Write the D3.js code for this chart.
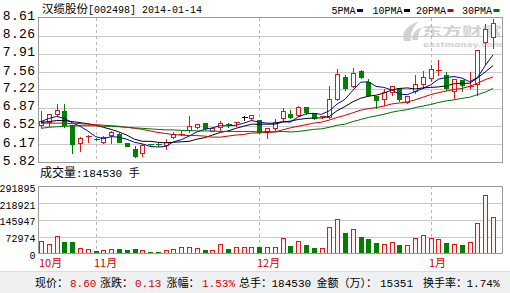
<!DOCTYPE html>
<html>
<head>
<meta charset="utf-8">
<script src="https://cdn.jsdelivr.net/npm/d3@7"></script>
<style>
  body { margin: 0; background: #fff; }
  svg { display: block; }
</style>
</head>
<body>
<div id="chart"></div>
<script>
// ---- data ----
const stockName = "汉缆股份";
const stockInfo = "[002498] 2014-01-14";

const open  = [6.53,6.60,6.74,6.81,6.53,6.18,6.31,6.27,6.21,6.35,6.37,6.18,6.07,6.00,6.17,6.17,6.14,6.30,6.35,6.44,
               6.49,6.57,6.42,6.49,6.56,6.58,6.68,6.66,6.63,6.39,6.47,6.66,6.75,6.73,6.89,6.76,6.68,6.68,7.04,7.47,
               7.29,7.57,7.36,7.10,7.04,7.17,7.24,6.98,7.19,7.32,7.44,7.59,7.50,7.19,7.40,7.27,7.32,8.14,8.23];
const close = [6.62,6.74,6.82,6.54,6.16,6.28,6.32,6.26,6.31,6.40,6.21,6.13,5.94,6.15,6.16,6.16,6.21,6.37,6.36,6.52,
               6.55,6.47,6.48,6.57,6.55,6.59,6.68,6.72,6.40,6.47,6.60,6.81,6.68,6.88,6.79,6.66,6.70,7.04,7.51,7.24,
               7.53,7.47,7.12,7.02,7.17,7.28,7.04,7.10,7.33,7.47,7.61,7.60,7.24,7.42,7.31,7.29,7.98,8.38,8.51];
const high  = [6.82,6.76,6.96,6.96,6.55,6.32,6.36,6.31,6.34,6.43,6.40,6.19,6.15,6.19,6.19,6.20,6.29,6.41,6.43,6.73,
               6.57,6.58,6.50,6.63,6.60,6.60,6.73,6.75,6.64,6.50,6.66,6.88,6.84,6.92,6.91,6.79,6.72,7.31,7.63,7.52,
               7.66,7.61,7.45,7.12,7.24,7.29,7.27,7.12,7.51,7.60,7.72,7.80,7.58,7.44,7.43,7.57,7.99,8.50,8.61];
const low   = [6.50,6.52,6.70,6.50,6.00,6.04,6.20,6.24,6.18,6.18,6.20,6.12,5.92,5.94,6.12,6.12,6.08,6.28,6.34,6.39,
               6.48,6.46,6.41,6.44,6.50,6.52,6.63,6.63,6.38,6.29,6.44,6.63,6.66,6.70,6.74,6.65,6.67,6.66,7.02,7.21,
               7.26,7.44,7.10,6.86,6.92,7.12,7.00,6.95,7.15,7.25,7.39,7.50,7.21,7.06,7.20,7.25,7.12,7.72,8.03];
const volume = [56000,41000,74000,53000,53000,24000,21000,16000,14000,21000,24000,19000,22000,17000,11000,11500,
                15000,19000,28000,30000,24000,21000,13000,40000,22000,29000,30000,26000,32000,26000,30000,65000,
                35000,52000,39000,30000,22000,115000,151000,92000,108000,75000,66000,49000,43000,48000,39000,
                35000,65000,78000,65000,61000,48000,39000,43000,48000,134000,255000,160000];

const ma5  = [6.60,6.66,6.70,6.66,6.58,6.51,6.42,6.31,6.27,6.31,6.30,6.26,6.20,6.17,6.12,6.11,6.12,6.21,6.25,6.32,
              6.40,6.45,6.48,6.52,6.52,6.53,6.57,6.62,6.59,6.57,6.57,6.60,6.59,6.69,6.75,6.76,6.74,6.81,6.94,7.03,
              7.20,7.36,7.37,7.28,7.26,7.21,7.13,7.12,7.18,7.24,7.31,7.42,7.45,7.47,7.44,7.37,7.45,7.68,7.89];
const ma10 = [6.58,6.60,6.62,6.62,6.60,6.58,6.56,6.53,6.49,6.45,6.40,6.34,6.26,6.22,6.22,6.20,6.19,6.20,6.21,6.22,
              6.26,6.29,6.34,6.39,6.42,6.47,6.51,6.55,6.55,6.55,6.55,6.59,6.61,6.64,6.66,6.67,6.67,6.70,6.81,6.89,
              6.98,7.05,7.09,7.11,7.15,7.21,7.24,7.25,7.23,7.25,7.26,7.27,7.29,7.33,7.34,7.34,7.44,7.56,7.68];
const ma20 = [6.57,6.57,6.57,6.57,6.56,6.56,6.55,6.54,6.53,6.52,6.51,6.49,6.47,6.45,6.42,6.39,6.37,6.35,6.34,6.33,
              6.33,6.32,6.30,6.30,6.32,6.34,6.35,6.38,6.38,6.39,6.40,6.44,6.48,6.51,6.54,6.57,6.59,6.63,6.68,6.72,
              6.77,6.82,6.85,6.87,6.90,6.94,6.96,6.98,7.02,7.07,7.12,7.16,7.19,7.22,7.24,7.28,7.34,7.41,7.46];
const ma30 = [6.47,6.49,6.50,6.51,6.52,6.52,6.52,6.52,6.51,6.51,6.50,6.49,6.48,6.47,6.46,6.45,6.44,6.44,6.43,6.43,
              6.42,6.42,6.42,6.41,6.41,6.41,6.41,6.41,6.40,6.41,6.40,6.41,6.40,6.41,6.43,6.45,6.46,6.49,6.53,6.55,
              6.60,6.64,6.68,6.71,6.74,6.78,6.81,6.83,6.87,6.90,6.93,6.97,7.00,7.02,7.05,7.07,7.12,7.17,7.24];

const priceTicks = [8.61, 8.26, 7.91, 7.56, 7.22, 6.87, 6.52, 6.17, 5.82];
const volTicks = [291895, 218921, 145947, 72974, 0];
const monthLabels = ["10月", "11月", "12月", "1月"];
const monthStart = [0, 7, 28, 50];
const maNames = ["5PMA", "10PMA", "20PMA", "30PMA"];
const volNow = "184530";
const infoLabels = ["现价：", "涨跌：", "涨幅：", "总手：", "金额（万）：", "换手率："];
const infoValues = ["8.60", "0.13", "1.53%", "184530", "15351", "1.74%"];

// ---- layout ----
const W = 510, H = 293;
const left = 38.5, right = 502.5;
const pTop = 17.5, pBot = 162;
const vTop = 186, vBot = 253.5;
const RED = "#e01818", GREEN = "#008000";
const maColors = ["#0000b0", "#000000", "#d00000", "#007000"];
const CJK = "'Noto Sans CJK SC', sans-serif";
const MONO = "'Liberation Mono', monospace";

const x = d3.scaleLinear().domain([0, close.length - 1]).range([41, 493]);
const y = d3.scaleLinear().domain([5.82, 8.61]).range([pBot, pTop]);
const yv = d3.scaleLinear().domain([0, 291895]).range([vBot, vTop]);
const cx = i => Math.round(x(i)) + 0.5;
const py = v => Math.round(y(v)) + 0.5;

const svg = d3.select("#chart").append("svg")
    .attr("width", W).attr("height", H);

svg.append("rect").attr("width", W).attr("height", H).attr("fill", "#fff");

// watermark
var wm = svg.append("g").attr("fill", "#d2d2d2");
wm.append("path").attr("d", "M404,41 C401,33 407,25 419,21 C413,27 410,33 411,41 Z");
wm.append("path").attr("d", "M412,40 C412,34 416,29 422,27 C419,31 418,35 418,40 Z");
wm.append("text").attr("x", 422).attr("y", 36).attr("font-family", CJK)
    .attr("font-size", 12.5).attr("font-weight", "bold")
    .attr("textLength", 80).attr("lengthAdjust", "spacingAndGlyphs").text("东方财富");
wm.append("text").attr("x", 423).attr("y", 47).attr("font-family", "'DejaVu Sans', sans-serif")
    .attr("font-size", 7).attr("font-weight", "bold")
    .attr("textLength", 79).attr("lengthAdjust", "spacingAndGlyphs").text("eastmoney.com");

// title + legend
var title = svg.append("text").attr("x", 42).attr("y", 13);
title.append("tspan").attr("font-family", CJK).attr("font-size", 11.5).text(stockName);
title.append("tspan").attr("font-family", MONO).attr("font-size", 10).text(stockInfo);

var legX = [331.5, 372.5, 416, 462];
maNames.forEach(function (n, k) {
  svg.append("text").attr("x", legX[k]).attr("y", 13.5)
      .attr("font-family", MONO).attr("font-size", 10).text(n);
  svg.append("rect").attr("x", legX[k] + n.length * 6 + 1.5).attr("y", 9)
      .attr("width", 6).attr("height", 3).attr("fill", maColors[k]);
});

// grids
svg.append("g").attr("transform", `translate(${left},0)`)
    .call(d3.axisLeft(y).tickValues(priceTicks.slice(1, -1)).tickSize(-(right - left)).tickFormat(""))
    .call(g => g.select(".domain").remove())
    .call(g => g.selectAll("line").attr("stroke", "#cacaca").attr("shape-rendering", "crispEdges"));

svg.append("g").attr("transform", `translate(${left},0)`)
    .call(d3.axisLeft(yv).tickValues(volTicks.slice(1, -1)).tickSize(-(right - left)).tickFormat(""))
    .call(g => g.select(".domain").remove())
    .call(g => g.selectAll("line").attr("stroke", "#cacaca").attr("shape-rendering", "crispEdges"));

monthStart.slice(1).forEach(function (k) {
  [[pTop, pBot], [vTop, vBot]].forEach(function (r) {
    svg.append("line").attr("x1", cx(k)).attr("x2", cx(k)).attr("y1", r[0]).attr("y2", r[1])
        .attr("stroke", "#b8b8b8").attr("stroke-dasharray", "3,3").attr("shape-rendering", "crispEdges");
  });
});

// axis labels
var pAxis = svg.append("g").attr("transform", `translate(${left - 3},-2)`)
    .call(d3.axisLeft(y).tickValues(priceTicks).tickSize(0).tickPadding(0).tickFormat(d3.format(".2f")));
pAxis.select(".domain").remove();
pAxis.selectAll("text").attr("font-family", MONO).attr("font-size", 13)
    .attr("letter-spacing", 0.4).attr("fill", "#000");

var vAxis = svg.append("g").attr("transform", `translate(${left - 3},2)`)
    .call(d3.axisLeft(yv).tickValues(volTicks).tickSize(0).tickPadding(0).tickFormat(d3.format("d")));
vAxis.select(".domain").remove();
vAxis.selectAll("text").attr("font-family", MONO).attr("font-size", 10).attr("fill", "#000");

// volume caption
var vt = svg.append("text").attr("x", 40).attr("y", 177);
vt.append("tspan").attr("font-family", CJK).attr("font-size", 12).text("成交量");
vt.append("tspan").attr("font-family", MONO).attr("font-size", 11).text(":" + volNow + " ");
vt.append("tspan").attr("font-family", CJK).attr("font-size", 11).text("手");

// month labels
monthLabels.forEach(function (m, k) {
  svg.append("text").attr("x", Math.round(x(monthStart[k])) - 2).attr("y", 267)
      .attr("font-family", CJK).attr("font-size", 11).attr("fill", "#d00000").text(m);
});

// candles
const idx = d3.range(close.length);
const colorOf = i => close[i] > open[i] ? RED : (close[i] < open[i] ? GREEN : "#000");

var cg = svg.append("g").attr("shape-rendering", "crispEdges");
idx.forEach(function (i) {
  var c = cx(i), col = colorOf(i);
  var top = py(Math.max(open[i], close[i])), bot = py(Math.min(open[i], close[i]));
  if (bot - top < 2) {
    cg.append("line").attr("x1", c).attr("x2", c).attr("y1", py(high[i])).attr("y2", py(low[i])).attr("stroke", col);
    cg.append("line").attr("x1", c - 3).attr("x2", c + 3).attr("y1", top).attr("y2", top).attr("stroke", col);
  } else if (close[i] > open[i]) {
    cg.append("line").attr("x1", c).attr("x2", c).attr("y1", py(high[i])).attr("y2", top).attr("stroke", col);
    cg.append("line").attr("x1", c).attr("x2", c).attr("y1", bot).attr("y2", py(low[i])).attr("stroke", col);
    cg.append("rect").attr("x", c - 2).attr("y", top).attr("width", 4).attr("height", bot - top)
        .attr("fill", "#fff").attr("stroke", col);
  } else {
    cg.append("line").attr("x1", c).attr("x2", c).attr("y1", py(high[i])).attr("y2", py(low[i])).attr("stroke", col);
    cg.append("rect").attr("x", c - 2.5).attr("y", top - 0.5).attr("width", 5).attr("height", bot - top + 1)
        .attr("fill", col);
  }
});

// moving averages
[ma5, ma10, ma20, ma30].forEach(function (ma, k) {
  svg.append("path").datum(idx)
      .attr("d", d3.line().x(i => x(i)).y(i => y(ma[i])))
      .attr("fill", "none").attr("stroke", maColors[k]).attr("stroke-width", 1);
});

// volume bars
var vg = svg.append("g").attr("shape-rendering", "crispEdges");
vg.selectAll("rect").data(idx).enter().append("rect")
    .attr("x", i => close[i] >= open[i] ? cx(i) - 2 : cx(i) - 2.5)
    .attr("y", i => Math.round(yv(volume[i])) + 0.5)
    .attr("width", i => close[i] >= open[i] ? 4 : 5)
    .attr("height", i => vBot - 0.5 - (Math.round(yv(volume[i])) + 0.5))
    .attr("fill", i => close[i] >= open[i] ? "#fff0f0" : GREEN)
    .attr("stroke", i => close[i] >= open[i] ? RED : "none");

// panel borders
[[pTop, pBot], [vTop, vBot]].forEach(function (r) {
  svg.append("rect").attr("x", left).attr("y", r[0]).attr("width", right - left).attr("height", r[1] - r[0])
      .attr("fill", "none").attr("stroke", "#9c9c9c").attr("shape-rendering", "crispEdges");
});

// bottom info bar
svg.append("rect").attr("x", 0).attr("y", 271).attr("width", W).attr("height", 22).attr("fill", "#eff0f2");
svg.append("line").attr("x1", 0).attr("x2", W).attr("y1", 271.5).attr("y2", 271.5)
    .attr("stroke", "#dcdcdc");
var labX = [35, 100, 166.5, 239, 316.5, 423], valX = [70, 135, 202, 271.5, 380, 466.5];
infoLabels.forEach(function (l, k) {
  svg.append("text").attr("x", labX[k]).attr("y", 286.5).attr("font-family", CJK)
      .attr("font-size", 11).attr("fill", "#000").text(l);
  svg.append("text").attr("x", valX[k]).attr("y", 286.5).attr("font-family", MONO)
      .attr("font-size", 11).attr("fill", k < 3 ? "#d00000" : "#000").text(infoValues[k]);
});
</script>
</body>
</html>
